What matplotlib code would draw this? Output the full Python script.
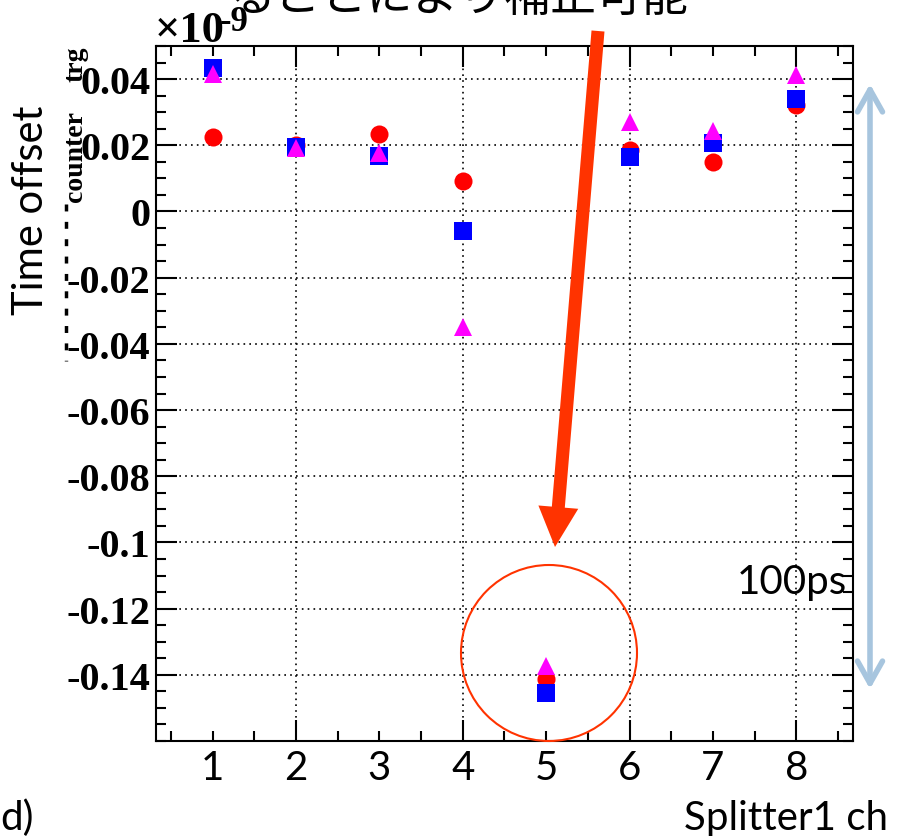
import matplotlib
matplotlib.use("Agg")
import matplotlib.pyplot as plt
import numpy as np
from matplotlib.ticker import MultipleLocator
from matplotlib.patches import Circle, FancyArrow

# データ (単位: 1e-9 s)
channels = [1, 2, 3, 4, 5, 6, 7, 8]
offset_red = [0.0224, 0.0200, 0.0233, 0.0092, -0.1412, 0.0185, 0.0148, 0.0322]
offset_blue = [0.0433, 0.0194, 0.0169, -0.0058, -0.1455, 0.0164, 0.0208, 0.0340]
offset_magenta = [0.0415, 0.0193, 0.0178, -0.0349, -0.1374, 0.0270, 0.0243, 0.0413]

x_labels = ["1", "2", "3", "4", "5", "6", "7", "8"]
y_ticks = [0.04, 0.02, 0.0, -0.02, -0.04, -0.06, -0.08, -0.1, -0.12, -0.14]
y_labels = ["0.04", "0.02", "0", "-0.02", "-0.04", "-0.06", "-0.08", "-0.1", "-0.12", "-0.14"]

SANS = ["Lato", "DejaVu Sans"]
SERIF = "Liberation Serif"
JP = ["Noto Sans CJK JP", "DejaVu Sans"]

W, H = 904, 837
fig = plt.figure(figsize=(W / 100, H / 100), dpi=100)
ax = fig.add_axes([156 / W, 1 - 742 / H, (853 - 156) / W, (742 - 47) / H])

ax.plot(channels, offset_red, "o", color="red", ms=13, mew=0, zorder=3)
ax.plot(channels, offset_blue, "s", color="blue", ms=13, mew=0, zorder=4)
ax.plot(channels, offset_magenta, "^", color="magenta", ms=13, mew=0, zorder=5)

ax.set_xlim(0.32, 8.68)
ax.set_ylim(-0.16, 0.05)

# x: 偶数が major, 0.5 刻みが minor
x_major = [c for c in channels if c % 2 == 0]
x_minor = [v for v in np.arange(0.5, 8.51, 0.5) if v not in x_major]
ax.set_xticks(x_major, labels=[x_labels[c - 1] for c in x_major])
ax.set_xticks(x_minor, labels=[x_labels[int(v) - 1] if v == int(v) else "" for v in x_minor],
              minor=True)
ax.set_yticks(y_ticks, labels=y_labels)
ax.yaxis.set_minor_locator(MultipleLocator(0.005))

ax.tick_params(which="both", direction="in", top=True, right=True, width=1.5)
ax.tick_params(which="major", length=15)
ax.tick_params(which="minor", length=7.5)
ax.tick_params(axis="x", which="both", pad=6, labelsize=29)
ax.tick_params(axis="y", pad=4)
for lab in ax.get_xticklabels(which="both"):
    lab.set_family(SANS)
for lab in ax.get_yticklabels():
    lab.set_family(SERIF)
    lab.set_fontweight("bold")
    lab.set_fontsize(29)

ax.grid(which="major", color="black", linestyle=(0, (1, 2.5)), linewidth=1.2)
for s in ax.spines.values():
    s.set_linewidth(1.5)

# 注釈用オーバーレイ (ピクセル座標)
ov = fig.add_axes([0, 0, 1, 1], zorder=10)
ov.set_xlim(0, W)
ov.set_ylim(H, 0)
ov.axis("off")
ov.patch.set_alpha(0)

ov.text(230, 11, "ることにより補正可能", fontsize=33, family=JP, ha="left", va="baseline")
ov.text(155, 42, "×10", fontsize=32, family=SERIF, fontweight="bold", ha="left", va="baseline")
ov.text(220, 31, "-9", fontsize=25, family=SERIF, fontweight="bold", ha="left", va="baseline")

ov.text(31, 210, "Time offset", fontsize=30, family=SANS, rotation=90, ha="center", va="center")
ov.text(76, 156, "counter", fontsize=20, family=SERIF, fontweight="bold", rotation=90,
        ha="center", va="center")
ov.text(76, 64, "trg", fontsize=20, family=SERIF, fontweight="bold", rotation=90,
        ha="center", va="center")
ov.plot([66, 66], [205, 362], color="black", lw=2.5, linestyle=(0, (2, 3)))

ov.text(0, 830, "d)", fontsize=29, family=SANS, ha="left", va="baseline")
ov.text(888, 830, "Splitter1 ch", fontsize=29, family=SANS, ha="right", va="baseline")
ov.text(847, 594, "100ps", fontsize=29, family=SANS, ha="right", va="baseline")

ov.add_patch(FancyArrow(598, 32, 555 - 598, 548 - 32, width=13, head_width=40, head_length=40,
                        length_includes_head=True, color="#ff3300", lw=0))
ov.add_patch(Circle((549, 654), 88, fill=False, ec="#ff3300", lw=1.5))
ov.annotate("", xy=(870, 85), xytext=(870, 690),
            arrowprops=dict(arrowstyle="<->,head_length=0.8,head_width=0.45",
                            color="#a7c5de", lw=4, shrinkA=0, shrinkB=0, mutation_scale=20))

fig.savefig("out.png", dpi=100)
